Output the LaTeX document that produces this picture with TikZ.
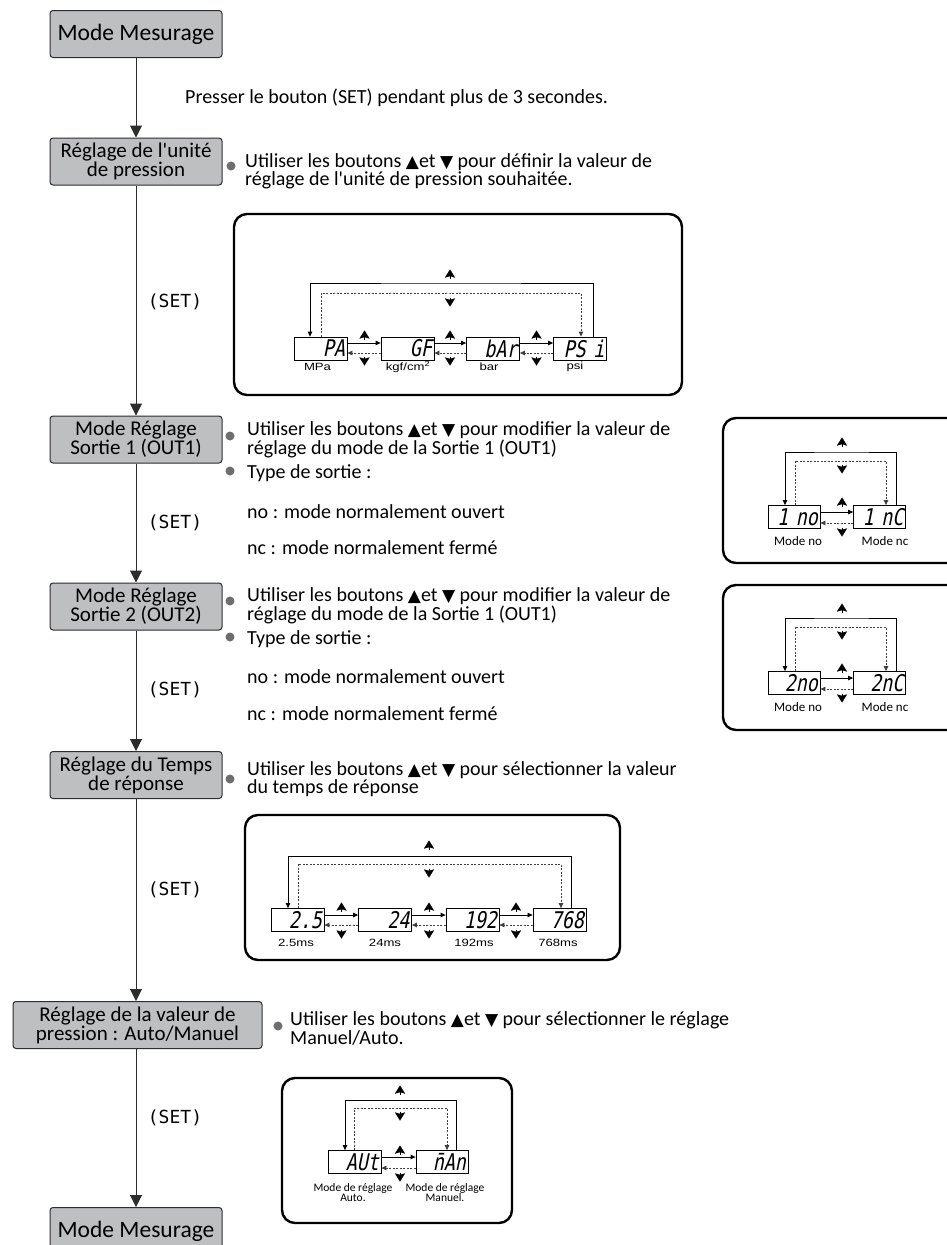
\documentclass[tikz,border=0pt]{standalone}
\usepackage{fontspec}
\setmainfont{Carlito}
\newfontfamily\dejavusym{DejaVu Sans}
\newfontfamily\setlblface{DejaVu Sans Mono}
\newfontfamily\lcdface[FakeSlant=0.2,FakeStretch=0.8]{DejaVu Sans Mono}
\newfontfamily\unitface[FakeStretch=1.25]{Liberation Sans}
\usetikzlibrary{arrows.meta}

\definecolor{boxfill}{RGB}{190,191,193}
\definecolor{boxline}{RGB}{45,45,45}
\definecolor{dotgray}{RGB}{110,110,113}

\newcommand{\btnup}{{\dejavusym\fontsize{17}{17}\selectfont ▲}}
\newcommand{\btndown}{{\dejavusym\fontsize{17}{17}\selectfont ▼}}
\newcommand{\keyup}[1]{\draw[keytip] (#1) ++(0,4.5) -- ++(0,-9);}
\newcommand{\keydown}[1]{\draw[keytip] (#1) ++(0,-4.5) -- ++(0,9);}

\tikzset{
	stepbox/.style={draw=boxline, fill=boxfill, rounded corners=3pt, line width=1pt, minimum width=172pt, minimum height=47pt, inner sep=0pt, align=center, font=\fontsize{21}{19}\selectfont},
	note/.style={anchor=west, align=left, inner sep=0pt, font=\fontsize{20}{16.5}\selectfont},
	dot/.style={circle, fill=dotgray, minimum size=9pt, inner sep=0pt},
	setlbl/.style={inner sep=0pt, font=\setlblface\fontsize{18}{18}\selectfont},
	panel/.style={draw, line width=2.4pt, rounded corners=13pt},
	lcd/.style={draw, line width=0.8pt, minimum width=53pt, minimum height=23pt, inner xsep=2pt, inner ysep=0pt, text width=49pt, align=right, font=\lcdface\fontsize{23}{23}\selectfont},
	unitlbl/.style={inner sep=0pt, font=\unitface\fontsize{10.5}{10.5}\selectfont},
	modelbl/.style={inner sep=0pt, align=center, font=\fontsize{13}{13}\selectfont},
	flow/.style={draw=boxline, line width=1pt, -{Triangle[length=12pt,width=12pt]}},
	go/.style={line width=0.8pt, -{Triangle[length=5pt,width=4.5pt]}},
	goback/.style={go, draw=black!75, dash pattern=on 2pt off 1.5pt},
	keytip/.style={line width=0.1pt, -{Stealth[length=8pt,width=10pt,inset=1.2pt]}}
}

\begin{document}
\begin{tikzpicture}[x=1pt, y=-1pt]
	\fill[white] (0,0) rectangle (946,1245);
	\useasboundingbox (0,0) rectangle (946,1245);

	% main steps
	\node[stepbox, font=\fontsize{23.5}{24}\selectfont] (mes1) at (136,34) {Mode Mesurage};
	\node[stepbox] (unite) at (136,161.5) {Réglage de l\textquotesingle unité\\de pression};
	\node[stepbox] (sortie1) at (136,439.5) {Mode Réglage\\Sortie 1 (OUT1)};
	\node[stepbox] (sortie2) at (136,606.5) {Mode Réglage\\Sortie 2 (OUT2)};
	\node[stepbox] (temps) at (136,775) {Réglage du Temps\\de réponse};
	\node[stepbox, minimum width=249pt] (auto) at (137.5,1025) {Réglage de la valeur de\\pression : Auto/Manuel};
	\node[stepbox, font=\fontsize{23.5}{24}\selectfont] (mes2) at (136,1231) {Mode Mesurage};

	\draw[flow] (mes1) -- (unite);
	\draw[flow] (unite) -- (sortie1);
	\draw[flow] (sortie1) -- (sortie2);
	\draw[flow] (sortie2) -- (temps);
	\draw[flow] (temps) -- (temps |- auto.north);
	\draw[flow] (auto.south -| mes2) -- (mes2);

	\node[setlbl] (set1) at (175,302) {(SET)};
	\node[setlbl] (set2) at (175,523) {(SET)};
	\node[setlbl] (set3) at (175,690) {(SET)};
	\node[setlbl] (set4) at (175,890) {(SET)};
	\node[setlbl] (set5) at (175,1118) {(SET)};

	% notes
	\node[note] (presser) at (185,98) {Presser le bouton (SET) pendant plus de 3 secondes.};
	\node[dot] (d1) at (231,166) {};
	\node[note] (n1) at (245,171.5) {Utiliser les boutons \btnup{}et \btndown{} pour définir la valeur de\\réglage de l\textquotesingle unité de pression souhaitée.};
	\node[dot] (d2) at (230,436) {};
	\node[note] (n2) at (247,439.5) {Utiliser les boutons \btnup{}et \btndown{} pour modifier la valeur de\\réglage du mode de la Sortie 1 (OUT1)};
	\node[dot] (d3) at (230,471) {};
	\node[note] (n3) at (247,473) {Type de sortie :};
	\node[note] (n4) at (247,512) {no : mode normalement ouvert};
	\node[note] (n5) at (247,548) {nc : mode normalement fermé};
	\node[dot] (d4) at (230,601) {};
	\node[note] (n6) at (247,606) {Utiliser les boutons \btnup{}et \btndown{} pour modifier la valeur de\\réglage du mode de la Sortie 1 (OUT1)};
	\node[dot] (d5) at (230,637) {};
	\node[note] (n7) at (247,639) {Type de sortie :};
	\node[note] (n8) at (247,677) {no : mode normalement ouvert};
	\node[note] (n9) at (247,714) {nc : mode normalement fermé};
	\node[dot] (d6) at (230,779) {};
	\node[note] (n10) at (247,779) {Utiliser les boutons \btnup{}et \btndown{} pour sélectionner la valeur\\du temps de réponse};
	\node[dot] (d7) at (278,1026) {};
	\node[note] (n11) at (290,1028.5) {Utiliser les boutons \btnup{}et \btndown{} pour sélectionner le réglage\\Manuel/Auto.};

	% pressure unit panel
	\draw[panel] (234,214) rectangle (682,395);
	\node[lcd] (pa) at (320.5,348.5) {PA};
	\node[lcd] (gf) at (407.5,348.5) {GF};
	\node[lcd] (bar) at (493,348.5) {bAr};
	\node[lcd] (psi) at (580,348.5) {PS i};
	\foreach \a/\b in {pa/gf, gf/bar, bar/psi} {
		\draw[go] ([yshift=5.5pt]\a.east) -- ([yshift=5.5pt]\b.west);
		\draw[goback] ([yshift=-4.5pt]\b.west) -- ([yshift=-4.5pt]\a.east);
	}
	\foreach \x in {364.5,450,536.5} {\keyup{\x,335} \keydown{\x,361}}
	\draw[go] ([xshift=13pt]psi.north) |- (450,283) -| ([xshift=-10.5pt]pa.north);
	\draw[goback] ([xshift=0.5pt]pa.north) |- (450,293) -| ([xshift=1pt]psi.north);
	\keyup{450,274} \keydown{450,302}
	\node[unitlbl] (lmpa) at (317.5,367) {MPa};
	\node[unitlbl] (lkgf) at (408,367) {kgf/cm\textsuperscript{2}};
	\node[unitlbl] (lbar) at (489,367) {bar};
	\node[unitlbl] (lpsi) at (575,367) {psi};

	% output 1 panel
	\draw[panel] (723,418) rectangle (970,563);
	\node[lcd, minimum width=52pt, text width=48pt] (no1) at (794,517) {1 no};
	\node[lcd, minimum width=52pt, text width=48pt] (nc1) at (879.5,517) {1 nC};
	\draw[go] ([yshift=5pt]no1.east) -- ([yshift=5pt]nc1.west);
	\draw[goback] ([yshift=-6pt]nc1.west) -- ([yshift=-6pt]no1.east);
	\keyup{842,502} \keydown{842,532}
	\draw[go] ([xshift=16.5pt]nc1.north) |- (842,452) -| ([xshift=-9pt]no1.north);
	\draw[goback] ([xshift=1pt]no1.north) |- (842,461) -| ([xshift=6.5pt]nc1.north);
	\keyup{842,442} \keydown{842,469}
	\node[modelbl] (lno1) at (798,541) {Mode no};
	\node[modelbl] (lnc1) at (885,541) {Mode nc};

	% output 2 panel
	\draw[panel] (723,585) rectangle (970,730);
	\node[lcd, minimum width=52pt, text width=48pt] (no2) at (794,683) {2no};
	\node[lcd, minimum width=52pt, text width=48pt] (nc2) at (879.5,683) {2nC};
	\draw[go] ([yshift=5pt]no2.east) -- ([yshift=5pt]nc2.west);
	\draw[goback] ([yshift=-6pt]nc2.west) -- ([yshift=-6pt]no2.east);
	\keyup{842,668} \keydown{842,698}
	\draw[go] ([xshift=16.5pt]nc2.north) |- (842,618) -| ([xshift=-9pt]no2.north);
	\draw[goback] ([xshift=1pt]no2.north) |- (842,627) -| ([xshift=6.5pt]nc2.north);
	\keyup{842,608} \keydown{842,635}
	\node[modelbl] (lno2) at (798,707) {Mode no};
	\node[modelbl] (lnc2) at (885,707) {Mode nc};

	% response time panel
	\draw[panel] (245,815) rectangle (620,960);
	\node[lcd] (t25) at (297.5,920) {2.5};
	\node[lcd] (t24) at (385,920) {24};
	\node[lcd] (t192) at (472.5,920) {192};
	\node[lcd] (t768) at (559.5,920) {768};
	\foreach \a/\b in {t25/t24, t24/t192, t192/t768} {
		\draw[go] ([yshift=5pt]\a.east) -- ([yshift=5pt]\b.west);
		\draw[goback] ([yshift=-5pt]\b.west) -- ([yshift=-5pt]\a.east);
	}
	\foreach \x in {341.5,429,516} {\keyup{\x,907} \keydown{\x,934}}
	\draw[go] ([xshift=11.5pt]t768.north) |- (429,856) -| ([xshift=-9.5pt]t25.north);
	\draw[goback] ([xshift=0.5pt]t25.north) |- (429,864) -| ([xshift=1.5pt]t768.north);
	\keyup{429,845} \keydown{429,873}
	\node[unitlbl] (l25) at (296,943) {2.5ms};
	\node[unitlbl] (l24) at (385,943) {24ms};
	\node[unitlbl] (l192) at (474,943) {192ms};
	\node[unitlbl] (l768) at (558,943) {768ms};

	% auto / manual panel
	\draw[panel] (282,1078) rectangle (512,1223);
	\node[lcd] (aut) at (354.5,1162) {AUt};
	\node[lcd, minimum width=52pt, text width=48pt] (man) at (442,1162) {n̄An};
	\draw[go] ([yshift=5pt]aut.east) -- ([yshift=5pt]man.west);
	\draw[goback] ([yshift=-6pt]man.west) -- ([yshift=-6pt]aut.east);
	\keyup{400,1150} \keydown{400,1177}
	\draw[go] ([xshift=14pt]man.north) |- (400,1100) -| ([xshift=-9.5pt]aut.north);
	\draw[goback] ([xshift=-0.5pt]aut.north) |- (400,1108) -| ([xshift=5pt]man.north);
	\keyup{400,1090} \keydown{400,1116}
	\node[modelbl, font=\fontsize{11.5}{10}\selectfont] (lauto) at (353,1193) {Mode de réglage\\Auto.};
	\node[modelbl, font=\fontsize{11.5}{10}\selectfont] (lman) at (445,1193) {Mode de réglage\\Manuel.};
\end{tikzpicture}
\end{document}
